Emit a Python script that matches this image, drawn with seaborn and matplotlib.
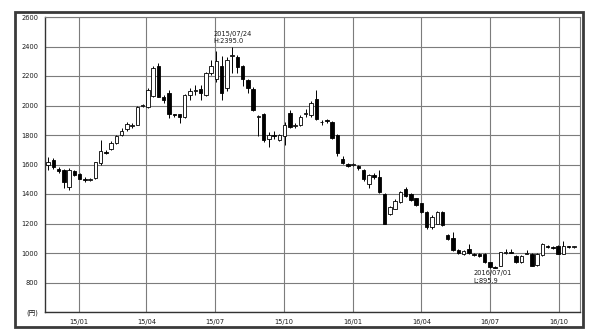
import matplotlib
matplotlib.use("Agg")
import matplotlib.pyplot as plt
import matplotlib.dates as mdates
from matplotlib.patches import Rectangle
import seaborn as sns
import pandas as pd
import numpy as np

# ---- data (weekly candles, Fridays) ----
start_date = "2014-11-21"
opens = [1595, 1630, 1570, 1560, 1450, 1555, 1535, 1500, 1495, 1510,
         1610, 1685, 1705, 1745, 1800, 1840, 1860, 1870, 1995, 1990,
         2065, 2265, 2060, 2083, 1938, 1940, 1920, 2070, 2100, 2110,
         2070, 2220, 2180, 2268, 2117, 2335, 2328, 2265, 2170, 2110,
         1925, 1942, 1770, 1800, 1768, 1790, 1950, 1860, 1868, 1940,
         1935, 2043, 1885, 1895, 1890, 1800, 1636, 1602, 1598, 1590,
         1562, 1470, 1530, 1512, 1400, 1267, 1300, 1346, 1437, 1400,
         1370, 1336, 1278, 1176, 1200, 1278, 1122, 1100, 1020, 990,
         1025, 990, 995, 995, 938, 905, 915, 1003, 1005, 980,
         938, 995, 995, 920, 985, 1045, 1038, 1050, 995, 1045, 1040]
highs = [1650, 1645, 1580, 1570, 1575, 1560, 1540, 1515, 1510, 1620,
         1765, 1700, 1760, 1800, 1850, 1890, 1880, 2000, 2010, 2120,
         2270, 2290, 2070, 2105, 1945, 1945, 2075, 2120, 2140, 2140,
         2225, 2310, 2370, 2335, 2330, 2395, 2340, 2275, 2180, 2125,
         1935, 1950, 1820, 1830, 1810, 1890, 1970, 1880, 1935, 1975,
         2030, 2105, 1905, 1910, 1895, 1810, 1660, 1610, 1610, 1600,
         1570, 1535, 1540, 1560, 1410, 1320, 1365, 1420, 1445, 1405,
         1375, 1340, 1285, 1255, 1285, 1285, 1130, 1140, 1025, 1020,
         1060, 1000, 1000, 1000, 940, 910, 1010, 1030, 1030, 985,
         985, 1020, 1000, 1000, 1070, 1055, 1045, 1055, 1080, 1050, 1045]
lows = [1560, 1570, 1540, 1440, 1430, 1525, 1500, 1480, 1485, 1505,
        1600, 1670, 1700, 1740, 1795, 1830, 1850, 1865, 1990, 1985,
        2060, 2055, 2020, 1915, 1925, 1880, 1915, 2040, 2070, 2040,
        2065, 2210, 2160, 2040, 2100, 2220, 2220, 2130, 2085, 1960,
        1790, 1750, 1720, 1770, 1760, 1730, 1845, 1845, 1860, 1920,
        1925, 1900, 1870, 1880, 1770, 1660, 1605, 1585, 1590, 1565,
        1490, 1440, 1505, 1405, 1195, 1255, 1295, 1340, 1380, 1350,
        1318, 1270, 1160, 1165, 1195, 1180, 1085, 1015, 995, 985,
        995, 980, 970, 930, 895.9, 898, 910, 995, 998, 935,
        935, 990, 910, 915, 980, 1035, 1030, 990, 990, 1035, 1035]
closes = [1615, 1580, 1555, 1480, 1560, 1530, 1505, 1495, 1500, 1615,
          1690, 1680, 1745, 1790, 1830, 1875, 1865, 1990, 2000, 2105,
          2253, 2060, 2040, 1943, 1935, 1925, 2070, 2095, 2105, 2083,
          2220, 2265, 2300, 2083, 2310, 2337, 2260, 2178, 2117, 1970,
          1930, 1765, 1800, 1790, 1800, 1868, 1855, 1862, 1925, 1950,
          2020, 1906, 1888, 1893, 1777, 1675, 1611, 1590, 1600, 1578,
          1500, 1528, 1513, 1414, 1200, 1312, 1350, 1414, 1385, 1358,
          1324, 1278, 1176, 1245, 1278, 1187, 1092, 1020, 1000, 1015,
          1000, 985, 977, 938, 904, 900, 1005, 1005, 1003, 938,
          980, 1000, 915, 995, 1060, 1042, 1035, 995, 1050, 1043, 1040]

y_ticks = [600, 800, 1000, 1200, 1400, 1600, 1800, 2000, 2200, 2400, 2600]
y_labels = ["(円)", "800", "1000", "1200", "1400", "1600", "1800",
            "2000", "2200", "2400", "2600"]
x_tick_dates = ["2015-01-01", "2015-04-01", "2015-07-01", "2015-10-01",
                "2016-01-01", "2016-04-01", "2016-07-01", "2016-10-01"]
x_labels = ["15/01", "15/04", "15/07", "15/10", "16/01", "16/04", "16/07", "16/10"]
high_note = "2015/07/24\nH:2395.0"
low_note = "2016/07/01\nL:895.9"

# ---- build table ----
df = pd.DataFrame({"open": opens, "high": highs, "low": lows, "close": closes})
df["date"] = pd.date_range(start_date, periods=len(df), freq="7D")
df["x"] = mdates.date2num(df["date"])
df["bottom"] = df[["open", "close"]].min(axis=1)
df["height"] = (df["close"] - df["open"]).abs().clip(lower=6)
df["up"] = df["close"] >= df["open"]

sns.set_theme(style="whitegrid")
plt.rcParams["font.family"] = ["DejaVu Sans", "Noto Sans CJK JP"]

fig = plt.figure(figsize=(6, 3.35), dpi=100)
fig.patch.set_facecolor("white")
ax = fig.add_axes([45 / 600, 1 - 312 / 335, 535 / 600, 295 / 335])
ax.set_facecolor("white")

# wicks
ax.vlines(df["x"], df["low"], df["high"], color="black", lw=0.7, zorder=2)
# bodies
ax.bar(df["x"], df["height"], bottom=df["bottom"], width=4.6,
       color=np.where(df["up"], "white", "black"),
       edgecolor="black", linewidth=0.6, zorder=3)

ax.set_ylim(600, 2600)
ax.set_xlim(mdates.date2num(pd.Timestamp("2014-11-17")),
            mdates.date2num(pd.Timestamp("2016-10-29")))
ax.set_yticks(y_ticks)
ax.set_yticklabels(y_labels)
ax.set_xticks(mdates.date2num(pd.to_datetime(x_tick_dates)))
ax.set_xticklabels(x_labels)
for lab in ax.get_yticklabels():
    lab.set_family(["DejaVu Sans", "Noto Sans CJK JP"])

ax.grid(True, color="#7c7c7c", lw=0.8)
ax.set_axisbelow(True)
ax.tick_params(axis="both", length=3, width=0.8, color="#444444",
               labelsize=4.8, pad=2, labelcolor="#1a1a1a")
for side in ["left", "bottom"]:
    ax.spines[side].set_color("#333333")
    ax.spines[side].set_linewidth(1.0)
for side in ["top", "right"]:
    ax.spines[side].set_color("#7c7c7c")
    ax.spines[side].set_linewidth(0.8)

# annotations
i_hi = int(np.argmax(df["high"].values))
i_lo = int(np.argmin(df["low"].values))
ax.annotate(high_note, xy=(df["x"][i_hi], df["high"][i_hi]),
            xytext=(-13.5, 2.5), textcoords="offset points",
            ha="left", va="bottom", fontsize=4.8, color="#1a1a1a",
            linespacing=1.25)
ax.annotate(low_note, xy=(df["x"][i_lo], df["low"][i_lo]),
            xytext=(-12, -1.5), textcoords="offset points",
            ha="left", va="top", fontsize=4.8, color="#1a1a1a",
            linespacing=1.25)

# outer frame
fig.patches.append(Rectangle((15 / 600, 1 - 327 / 335), 568 / 600, 315 / 335,
                             transform=fig.transFigure, fill=False,
                             edgecolor="#3a3a3a", linewidth=2.0))

fig.savefig("out.png", dpi=100, facecolor="white")
